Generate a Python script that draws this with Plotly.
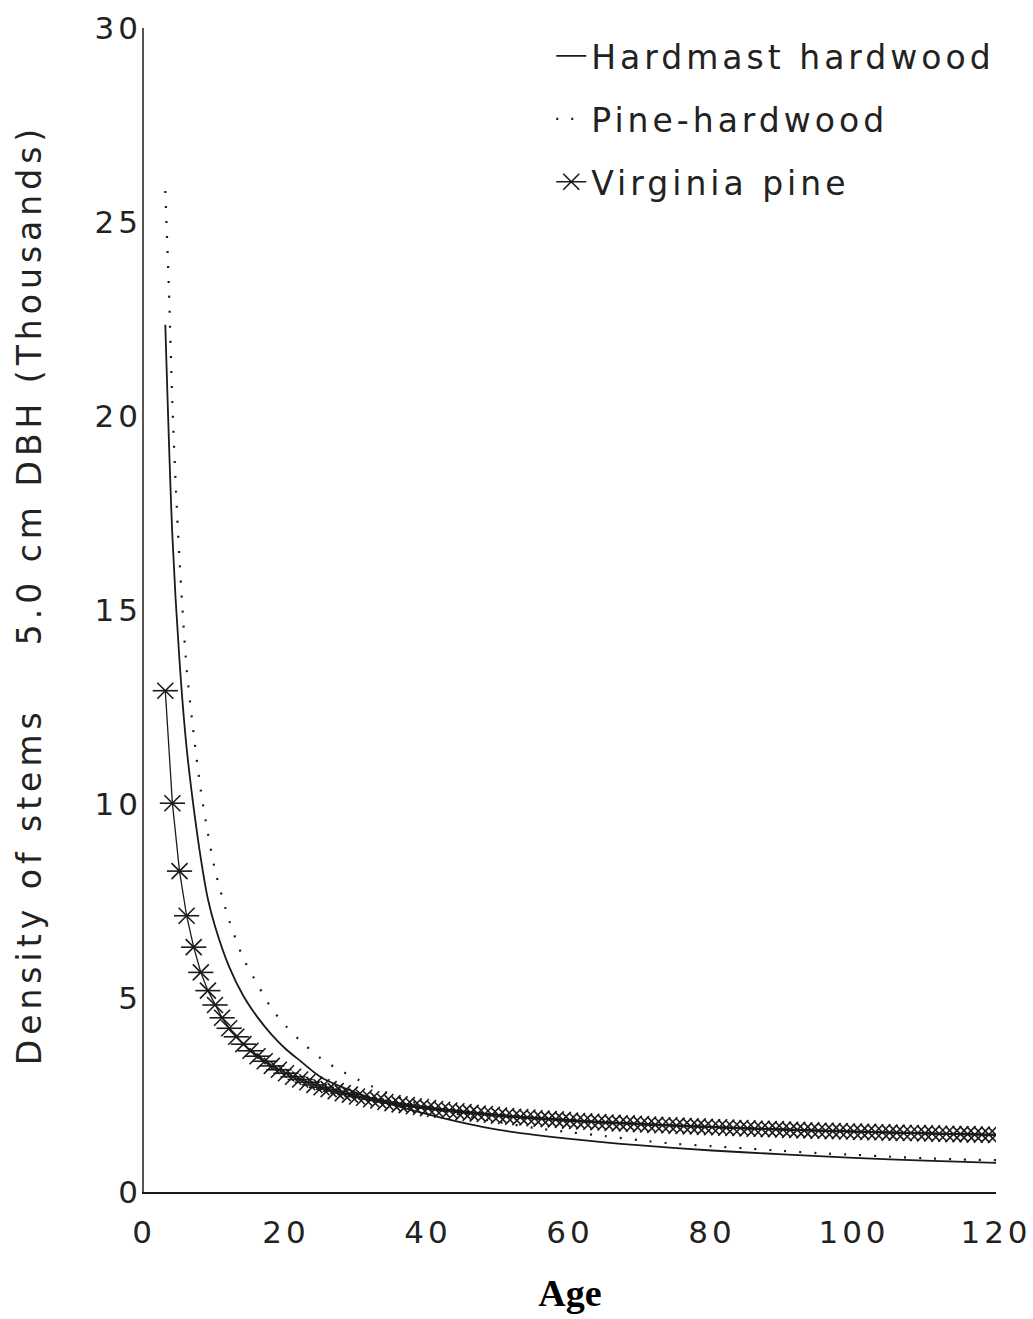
import plotly.graph_objects as go

# ---- data ----
hh_age = [3, 4, 5, 6, 7, 8, 9, 10, 12, 14, 16, 18, 20, 22, 25, 30, 35, 40, 45, 50,
          60, 70, 80, 90, 100, 110, 120]
hh_val = [22.35, 16.9, 13.7, 11.45, 9.9, 8.6, 7.55, 6.85, 5.8, 5.05, 4.5, 4.05, 3.68,
          3.38, 2.95, 2.55, 2.25, 2.0, 1.78, 1.6, 1.37, 1.2, 1.07, 0.97, 0.88, 0.81, 0.75]

ph_age = [3, 3.5, 4, 4.5, 5, 6, 7, 8, 9, 10, 12, 14, 16, 18, 20, 22, 25, 28, 30, 32,
          35, 40, 45, 50, 55, 60, 65, 70, 75, 80, 85, 90, 95, 100, 105, 110, 115, 120]
ph_val = [25.8, 23.3, 20.3, 18.1, 16.3, 13.5, 11.8, 10.35, 9.25, 8.3, 7.0, 6.02, 5.35,
          4.72, 4.27, 3.9, 3.43, 3.1, 2.91, 2.73, 2.5, 2.2, 1.97, 1.8, 1.65, 1.54, 1.44,
          1.33, 1.24, 1.18, 1.12, 1.06, 1.0, 0.96, 0.91, 0.87, 0.84, 0.82]

vp_age = list(range(3, 121))
vp_val = [12.92, 10.02, 8.27, 7.12, 6.31, 5.66, 5.19, 4.82, 4.49, 4.22,
          4.00, 3.81, 3.64, 3.50, 3.37, 3.25, 3.15, 3.06, 2.97, 2.90,
          2.83, 2.76, 2.70, 2.65, 2.60, 2.55, 2.51, 2.46, 2.43, 2.39,
          2.36, 2.32, 2.29, 2.26, 2.24, 2.21, 2.19, 2.16, 2.14, 2.12,
          2.10, 2.08, 2.06, 2.04, 2.02, 2.01, 1.99, 1.97, 1.96, 1.94,
          1.93, 1.92, 1.90, 1.89, 1.88, 1.87, 1.86, 1.84, 1.83, 1.82,
          1.81, 1.80, 1.79, 1.78, 1.77, 1.77, 1.76, 1.75, 1.74, 1.73,
          1.72, 1.72, 1.71, 1.70, 1.69, 1.69, 1.68, 1.67, 1.67, 1.66,
          1.65, 1.65, 1.64, 1.63, 1.63, 1.62, 1.62, 1.61, 1.60, 1.60,
          1.59, 1.59, 1.58, 1.58, 1.57, 1.57, 1.56, 1.56, 1.55, 1.55,
          1.54, 1.54, 1.53, 1.53, 1.52, 1.52, 1.52, 1.51, 1.51, 1.50,
          1.50, 1.49, 1.49, 1.49, 1.48, 1.48, 1.48, 1.47]

series_names = ["Hardmast hardwood", "Pine-hardwood", "Virginia pine"]
x_ticks = [0, 20, 40, 60, 80, 100, 120]
y_ticks = [0, 5, 10, 15, 20, 25, 30]
y_title = "\u00a0\u00a0Density of stems \u00a0\u00a0\u00a05.0 cm DBH (Thousands)"

FONT = "DejaVu Sans"
INK = "#1a1a1a"


def spaced(s, px):
    return '<span style="letter-spacing:%dpx">%s</span>' % (px, s)


fig = go.Figure()

fig.add_trace(go.Scatter(
    x=hh_age, y=hh_val, mode="lines", name=spaced(series_names[0], 4),
    legendgroup="hh", line=dict(color=INK, width=1.8, shape="spline", smoothing=0.8)))

fig.add_trace(go.Scatter(
    x=ph_age, y=ph_val, mode="lines", name=spaced(series_names[1], 4),
    legendgroup="ph", line=dict(color=INK, width=2.2, dash="2px,13px",
                                shape="spline", smoothing=0.8)))

fig.add_trace(go.Scatter(
    x=vp_age, y=vp_val, mode="lines+markers", name=spaced(series_names[2], 4),
    legendgroup="vp", line=dict(color=INK, width=1.3),
    marker=dict(symbol="x-thin-open", size=16, color=INK,
                line=dict(color=INK, width=1.6))))

fig.add_trace(go.Scatter(
    x=vp_age, y=vp_val, mode="markers", name=series_names[2],
    legendgroup="vp", showlegend=False,
    marker=dict(symbol="line-ew-open", size=18, color=INK,
                line=dict(color=INK, width=1.6))))

fig.update_layout(
    width=1033, height=1319,
    margin=dict(l=144, r=37, t=28, b=127),
    paper_bgcolor="white", plot_bgcolor="white",
    font=dict(family=FONT, color=INK, size=30),
    showlegend=True,
    legend=dict(x=0.478, y=1.0, xanchor="left", yanchor="top",
                bgcolor="rgba(0,0,0,0)", font=dict(family=FONT, size=33, color="#222"),
                itemwidth=30, traceorder="grouped", tracegroupgap=17),
    xaxis=dict(range=[0, 120], tickvals=x_ticks, automargin=False,
               ticktext=[spaced(str(v), 4) for v in x_ticks],
               showgrid=False, zeroline=False, showline=True, linecolor=INK, linewidth=2,
               ticks="outside", ticklen=12, tickcolor="rgba(0,0,0,0)",
               tickfont=dict(family=FONT, size=31, color="#222"),
               title=dict(text="<b>Age</b>", standoff=30,
                          font=dict(family="Liberation Serif", size=38, color="#000"))),
    yaxis=dict(range=[0, 30], tickvals=y_ticks, automargin=False,
               ticktext=[spaced(str(v), 4) for v in y_ticks],
               showgrid=False, zeroline=False, showline=True, linecolor="#555", linewidth=1.5,
               ticks="", ticklabelstandoff=-6,
               tickfont=dict(family=FONT, size=31, color="#222"),
               title=dict(text=spaced(y_title, 5),
                          standoff=43, font=dict(family=FONT, size=33, color="#222"))),
)

fig.write_html("out.html")
